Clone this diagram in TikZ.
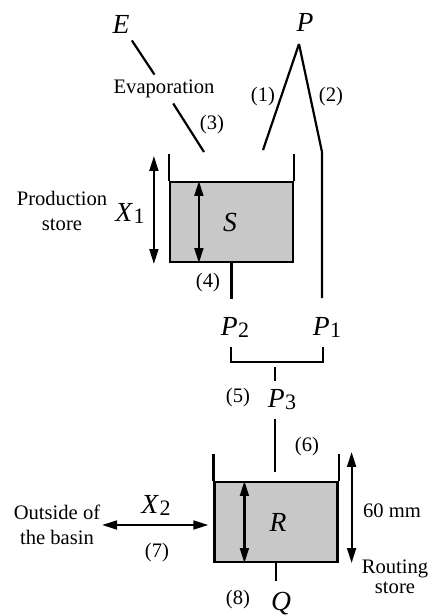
\documentclass[tikz,border=0pt]{standalone}
\usepackage{fontspec}
\setmainfont{Liberation Serif}
\usetikzlibrary{positioning, calc, arrows.meta}
\definecolor{storeGray}{RGB}{200, 200, 200}
\newcommand{\mvar}[1]{\textit{#1}}
\newcommand{\mvarsub}[2]{\textit{#1}\kern0.3pt\raisebox{-1pt}{\fontsize{11}{11}\selectfont #2}}

\begin{document}
\begin{tikzpicture}[x=0.5pt, y=-0.5pt,
          lbl/.style={font=\fontsize{10.3}{12.5}\selectfont, align=center, inner sep=0pt},
          var/.style={font=\fontsize{13.8}{14}\selectfont, inner sep=1pt},
          flow/.style={line width=1.1pt},
          water/.style={draw, line width=1.1pt, fill=storeGray, minimum width=61.5pt,
                        minimum height=40pt, inner sep=0pt},
          dimarr/.style={line width=1.1pt,
                         {Triangle[length=7.5pt,width=4.4pt]}-{Triangle[length=7.5pt,width=4.4pt]}}
        ]
        \useasboundingbox (0,0) rectangle (430,616);

        % inputs
        \node[var] (E) at (121,24) {\mvar{E}};
        \node[var] (P) at (305,22) {\mvar{P}};
        \node[lbl] (evap) at (164,89) {Evaporation};
        \coordinate (apex)  at (299,44);
        \coordinate (in1)   at (263,150);
        \coordinate (in2)   at (322,152);
        \coordinate (evin)  at (204,152);

        \draw[flow, shorten <=3pt, shorten >=3pt] (E) -- (evap);
        \draw[flow, shorten <=3pt] (evap) -- (evin);
        \draw[flow] (apex) -- (in1);
        \draw[flow] (apex) -- (in2) -- ++(0,146) coordinate (p1top);
        \node[lbl] at (212,125) {(3)};
        \node[lbl] at (263,97)  {(1)};
        \node[lbl] at (331,97)  {(2)};

        % production store
        \node[water] (Sw) at (231.5,222) {};
        \draw[flow] (Sw.north west) -- ++(0,-27);
        \draw[flow] (Sw.north east) -- ++(0,-27);
        \node[var] (S) at (230,222) {\mvar{S}};
        \draw[dimarr] ($(Sw.north west)+(30,0)$) -- ($(Sw.south west)+(30,0)$);
        \draw[dimarr] ($(Sw.north west)+(-15,-25)$) -- ($(Sw.south west)+(-15,1)$);
        \node[var] (X1) at (130,213) {\mvarsub{X}{1}};
        \node[lbl] (prod) at (62,211) {Production\\store};

        \node[var] (P2) at (235,327) {\mvarsub{P}{2}};
        \node[var] (P1) at (327,327) {\mvarsub{P}{1}};
        \draw[flow] (Sw.south) -- ++(0,36);
        \node[lbl] at (208,283) {(4)};

        % sum of P1 and P2
        \coordinate (brL) at (231,347);
        \coordinate (brR) at (323,347);
        \draw[flow] (brL) -- ++(0,15) -| (brR);
        \node[var] (P3) at (282,400) {\mvarsub{P}{3}};
        \draw[flow] (275,367) -- (275,381);
        \node[lbl] at (238,398) {(5)};

        % routing store
        \node[water] (Rw) at (276,522) {};
        \draw[flow] (Rw.north west) -- ++(0,-27);
        \draw[flow] (Rw.north east) -- ++(0,-27);
        \draw[flow] (P3.south -| 275,0) ++(0,6) -- ($(Rw.north -| 275,0)+(0,-9)$);
        \node[lbl] at (307,447) {(6)};
        \node[var] (R) at (278,522) {\mvar{R}};
        \draw[dimarr] ($(Rw.north west)+(31,0)$) -- ($(Rw.south west)+(31,0)$);
        \draw[dimarr] ($(Rw.north east)+(13,-29)$) -- ($(Rw.south east)+(13,0)$);
        \node[lbl] (mm) at (392,511) {60 mm};
        \node[lbl, font=\fontsize{10.3}{10}\selectfont] (rout) at (395,577) {Routing\\store};

        % exchange
        \node[var] (X2) at (156,505) {\mvarsub{X}{2}};
        \node[lbl] (outb) at (57,525) {Outside of\\the basin};
        \draw[dimarr] (102,525) -- ($(Rw.west)+(-5,3)$);
        \node[lbl] at (157,553) {(7)};

        % outflow
        \draw[flow] (Rw.south) -- ++(0,18);
        \node[var] (Q) at (281,604) {\mvar{Q}};
        \node[lbl] at (238,600) {(8)};
      \end{tikzpicture}
\end{document}
